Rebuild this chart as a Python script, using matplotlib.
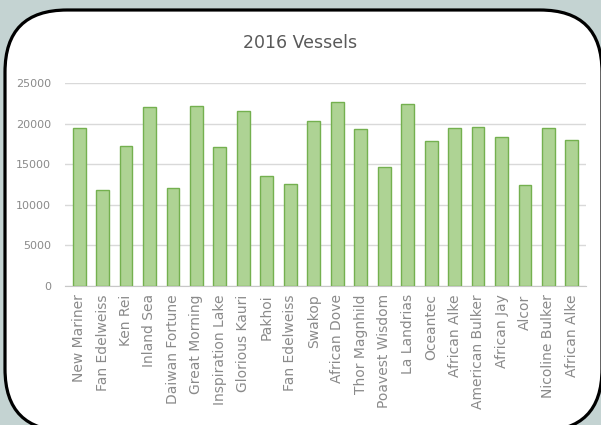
import matplotlib.pyplot as plt
from matplotlib.patches import FancyBboxPatch

vessels = ["New Mariner", "Fan Edelweiss", "Ken Rei", "Inland Sea", "Daiwan Fortune",
           "Great Morning", "Inspiration Lake", "Glorious Kauri", "Pakhoi", "Fan Edelweiss",
           "Swakop", "African Dove", "Thor Magnhild", "Poavest Wisdom", "La Landrias",
           "Oceantec", "African Alke", "American Bulker", "African Jay", "Alcor",
           "Nicoline Bulker", "African Alke"]
tonnage = [19500, 11800, 17200, 22000, 12100, 22200, 17100, 21600, 13600, 12600,
           20300, 22700, 19300, 14700, 22400, 17800, 19400, 19600, 18300, 12400,
           19400, 18000]
y_ticks = [0, 5000, 10000, 15000, 20000, 25000]

fig = plt.figure(figsize=(6.01, 4.25), dpi=100)
fig.patch.set_facecolor('#c4d3d2')

# rounded white frame
bg = fig.add_axes([0, 0, 1, 1])
bg.set_xlim(0, 601)
bg.set_ylim(425, 0)
bg.axis('off')
frame = FancyBboxPatch((5 + 62, 10 + 62), 597 - 124, 421 - 124,
                       boxstyle="round,pad=62", facecolor='white',
                       edgecolor='black', linewidth=2.3)
bg.add_patch(frame)

ax = fig.add_axes([65 / 601, 1 - 286 / 425, 521 / 601, 203 / 425])
ax.set_facecolor('none')
ax.bar(range(len(tonnage)), tonnage, width=0.55, color='#aed394',
       edgecolor='#74b04f', linewidth=1, zorder=3)
ax.set_xlim(-0.6, len(tonnage) - 0.4)
ax.set_ylim(0, 25000)
ax.set_yticks(y_ticks)
ax.set_yticklabels([str(v) for v in y_ticks])
ax.set_xticks(range(len(vessels)))
ax.set_xticklabels(vessels, rotation=90)
ax.grid(axis='y', color='#d9d9d9', linewidth=1, zorder=0)
for s in ['top', 'right', 'left']:
    ax.spines[s].set_visible(False)
ax.spines['bottom'].set_color('#c8c8c8')
ax.tick_params(length=0, colors='#8a8a8a', labelsize=8)
ax.tick_params(axis='x', labelsize=10, pad=6)
ax.tick_params(axis='y', pad=10)

fig.text(0.5, 1 - 43 / 425, "2016 Vessels", ha='center', va='center',
         fontsize=12.5, color='#595959')

fig.savefig('out.png', dpi=100, facecolor=fig.get_facecolor())
